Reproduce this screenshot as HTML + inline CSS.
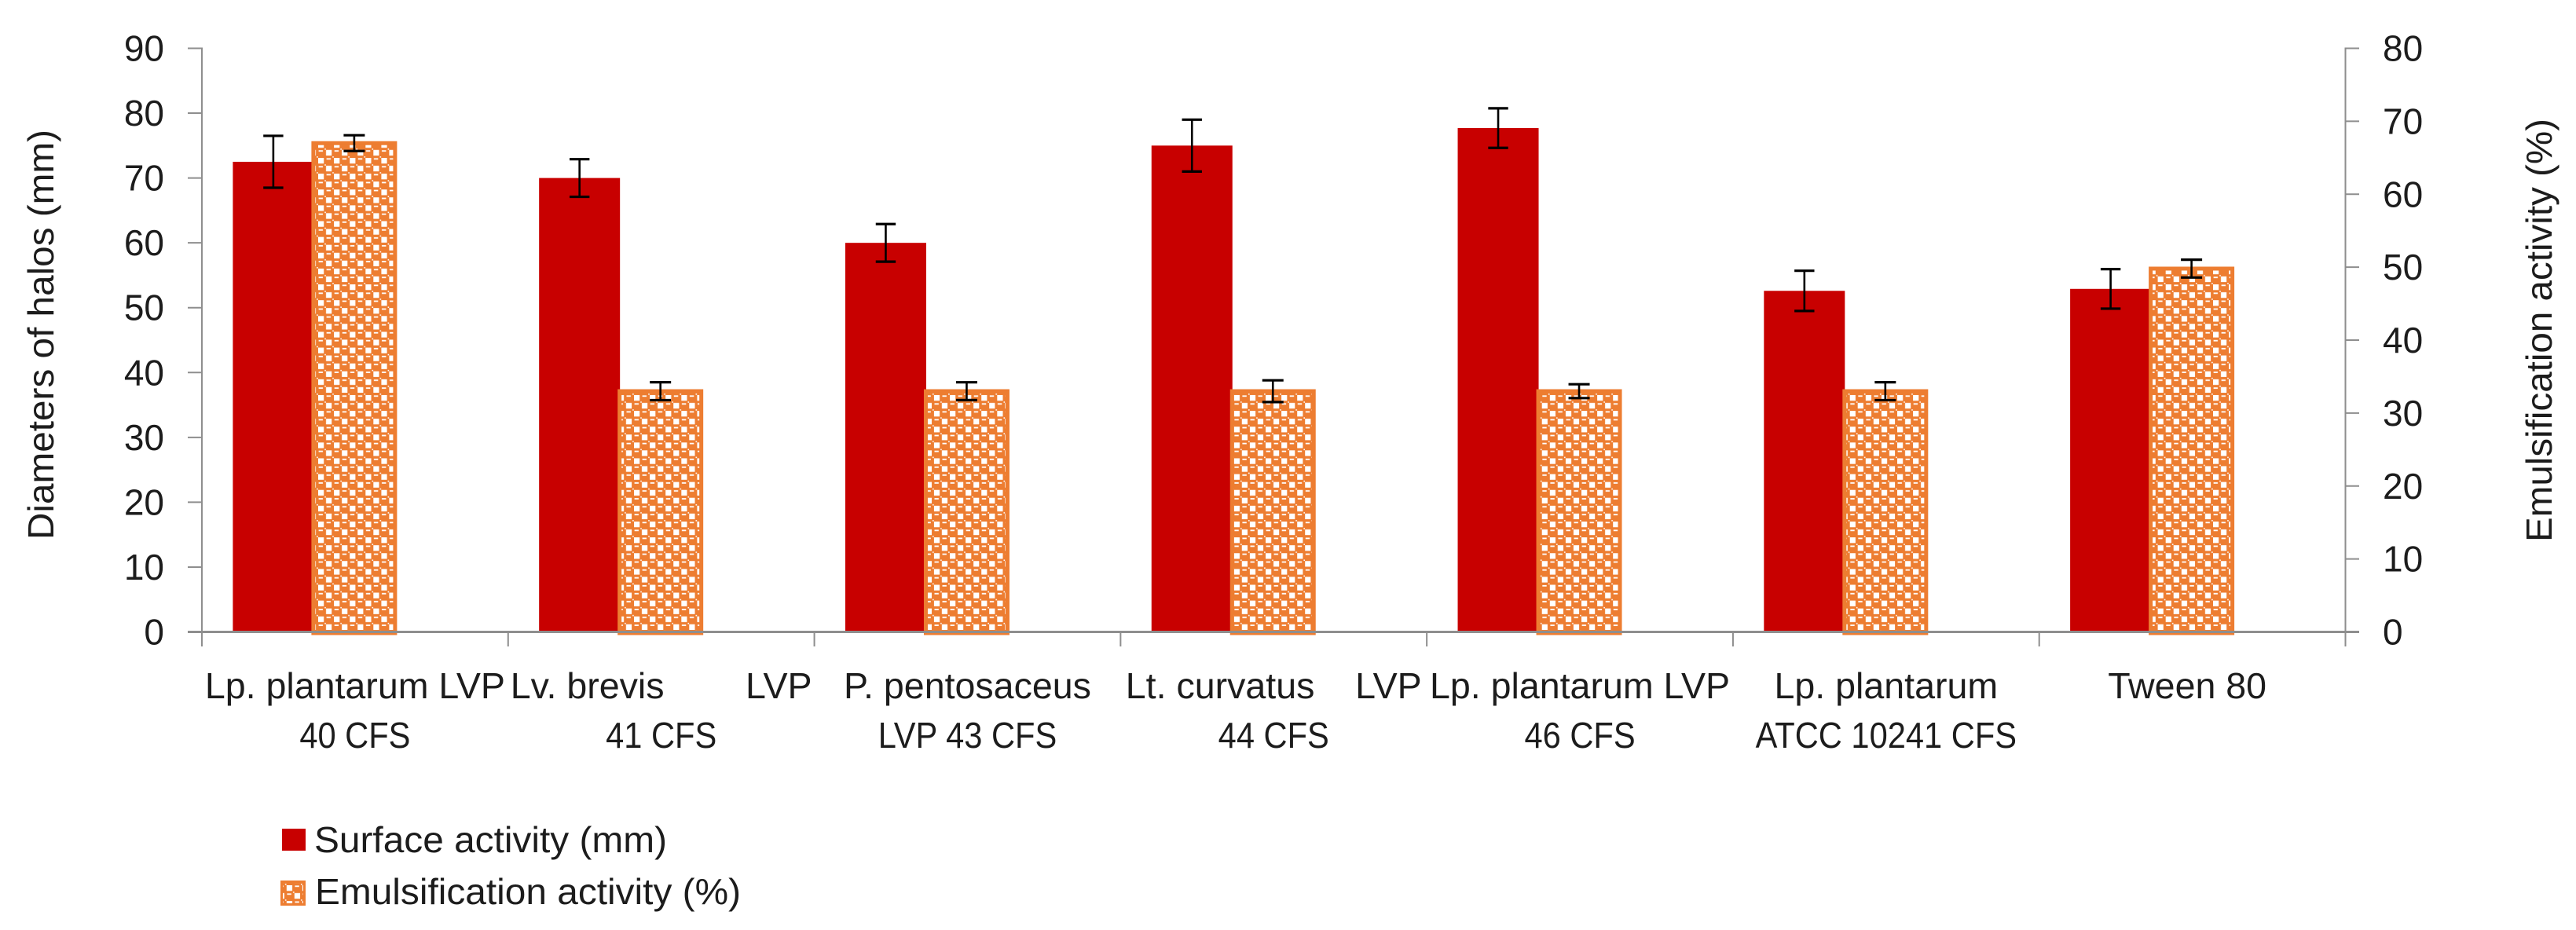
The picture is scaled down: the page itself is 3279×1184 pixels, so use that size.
<!DOCTYPE html>
<html lang="en">
<head>
<meta charset="utf-8">
<title>Surface and emulsification activity</title>
<style>
  html, body { margin: 0; padding: 0; background: #ffffff; }
  #chart { display: block; width: 3279px; height: 1184px; }
  text { font-family: "Liberation Sans", sans-serif; font-size: 46px; fill: #1c1c1c; white-space: pre; }
</style>
</head>
<body>
<svg id="chart" xmlns="http://www.w3.org/2000/svg" width="3279" height="1184" viewBox="0 0 3279 1184">
  <defs>
    <pattern id="dots" patternUnits="userSpaceOnUse" x="405" y="201" width="20.1" height="20.13">
      <rect x="0" y="0" width="20.1" height="20.13" fill="#ED7D31"/>
      <rect x="0" y="0" width="7.2" height="7.2" fill="#ffffff"/>
      <rect x="10" y="10" width="7.2" height="7.2" fill="#ffffff"/>
      <rect x="10.6" y="0.4" width="5.4" height="1.8" fill="#ffffff"/>
      <rect x="0.6" y="10.4" width="5.4" height="1.8" fill="#ffffff"/>
      <rect x="8.2" y="8.2" width="1.6" height="1.6" fill="#ffffff"/>
      <rect x="18.2" y="18.2" width="1.6" height="1.6" fill="#ffffff"/>
    </pattern>
  </defs>
  <g id="bars"></g>
  <g id="axes"></g>
  <g id="errors"></g>
  <g id="labels"></g>
  <g id="legend">
    <rect x="359" y="1055" width="30" height="28" fill="#C80000"/>
    <text x="400" y="1085" textLength="449" lengthAdjust="spacingAndGlyphs">Surface activity (mm)</text>
    <rect x="358.5" y="1122.5" width="29" height="29" fill="url(#dots)" stroke="#ED7D31" stroke-width="3"/>
    <text x="401" y="1151" textLength="542" lengthAdjust="spacingAndGlyphs">Emulsification activity (%)</text>
  </g>
  <text transform="translate(68 687) rotate(-90)" textLength="522" lengthAdjust="spacingAndGlyphs">Diameters of halos (mm)</text>
  <text transform="translate(3248 690) rotate(-90)" textLength="539" lengthAdjust="spacingAndGlyphs">Emulsification activity (%)</text>
</svg>
<script>
const categoryLine1 = ["Lp. plantarum LVP", "Lv. brevis        LVP", "P. pentosaceus", "Lt. curvatus    LVP", "Lp. plantarum LVP", "Lp. plantarum", "Tween 80 "];
const categoryLine2 = ["40 CFS", "41 CFS", "LVP 43 CFS", "44 CFS", "46 CFS", "ATCC 10241 CFS", ""];
const surfaceValues = [72.5, 70, 60, 75, 77.7, 52.6, 52.9];
const surfaceErrors = [4, 2.9, 2.9, 4, 3.05, 3.1, 3.05];
const emulsificationValues = [67, 33, 33, 33, 33, 33, 49.8];
const emulsificationErrors = [1.08, 1.23, 1.22, 1.49, 0.95, 1.23, 1.22];
const leftTicks = [0, 10, 20, 30, 40, 50, 60, 70, 80, 90];
const rightTicks = [0, 10, 20, 30, 40, 50, 60, 70, 80];

const NS = "http://www.w3.org/2000/svg";
const plotLeft = 257, plotRight = 2985.5, plotTop = 61.5, plotBottom = 804.5;
const leftMax = 90, rightMax = 80;
const band = (plotRight - plotLeft) / categoryLine1.length;
const yLeft = v => plotBottom - (v / leftMax) * (plotBottom - plotTop);
const yRight = v => plotBottom - (v / rightMax) * (plotBottom - plotTop);
const xCenter = i => plotLeft + band * (i + 0.5);
const surfaceOffset = -104, barWidth = 103, orangeWidth = 104;
const axisColor = "#8E8E8E";
const line2Squeeze = 0.905;
const line1Stretch = 1.012;

function make(tag, parent, attrs) {
  const el = document.createElementNS(NS, tag);
  for (const k in attrs) el.setAttribute(k, attrs[k]);
  parent.appendChild(el);
  return el;
}
function fitWidth(el, factor) {
  el.setAttribute("textLength", el.getComputedTextLength() * factor);
  el.setAttribute("lengthAdjust", "spacingAndGlyphs");
}
const barsG = document.getElementById("bars");
const axesG = document.getElementById("axes");
const errG = document.getElementById("errors");
const labelsG = document.getElementById("labels");

function errorBar(parent, cx, yHigh, yLow, half, name) {
  const g = make("g", parent, { stroke: "#000000" });
  
  
  make("line", g, { x1: cx, x2: cx, y1: yHigh, y2: yLow, "stroke-width": 2.6 });
  make("line", g, { x1: cx - half, x2: cx + half, y1: yHigh, y2: yHigh, "stroke-width": 3.2 });
  make("line", g, { x1: cx - half, x2: cx + half, y1: yLow, y2: yLow, "stroke-width": 3.2 });
}

surfaceValues.forEach((v, i) => {
  const cx = xCenter(i) + surfaceOffset;
  const y = yLeft(v);
  const bar = make("rect", barsG, { x: cx - barWidth / 2, y: y, width: barWidth, height: plotBottom - y, fill: "#C80000" });
  
  
  const e = surfaceErrors[i];
  errorBar(errG, cx, yLeft(v + e), yLeft(v - e), 12.7, 'error-bar-surface-' + (i + 1));
});

emulsificationValues.forEach((v, i) => {
  const cx = xCenter(i) - 1;
  const y = yRight(v);
  const bar = make("rect", barsG, { x: cx - orangeWidth / 2, y: y, width: orangeWidth, height: plotBottom + 1.5 - y, fill: "url(#dots)", stroke: "#ED7D31", "stroke-width": 5 });
  
  
  const e = emulsificationErrors[i];
  errorBar(errG, cx, yRight(v + e), yRight(v - e), 13.5, 'error-bar-emulsification-' + (i + 1));
});

const xAxis = make("line", axesG, { x1: 239, x2: 3003, y1: plotBottom, y2: plotBottom, stroke: axisColor, "stroke-width": 3 });


const leftAxis = make("line", axesG, { x1: plotLeft, x2: plotLeft, y1: plotTop - 1, y2: 823, stroke: axisColor, "stroke-width": 2 });


const rightAxis = make("line", axesG, { x1: plotRight, x2: plotRight, y1: plotTop - 1, y2: 823, stroke: axisColor, "stroke-width": 2 });



categoryLine1.forEach((c, i) => {
  if (i > 0) {
    const tick = make("line", axesG, { x1: plotLeft + band * i, x2: plotLeft + band * i, y1: plotBottom, y2: 823, stroke: axisColor, "stroke-width": 2 });
    
    
  }
  const line1 = make("text", labelsG, { x: xCenter(i), y: 889, "text-anchor": "middle" });
  line1.textContent = c;
  
  
  fitWidth(line1, line1Stretch);
  if (categoryLine2[i]) {
    const line2 = make("text", labelsG, { x: xCenter(i), y: 952, "text-anchor": "middle" });
    line2.textContent = categoryLine2[i];
    
    
    fitWidth(line2, line2Squeeze);
  }
});

leftTicks.forEach(t => {
  const y = yLeft(t);
  const tick = make("line", axesG, { x1: 239, x2: plotLeft, y1: y, y2: y, stroke: axisColor, "stroke-width": 2 });
  
  
  const label = make("text", labelsG, { x: 209, y: y + 16, "text-anchor": "end" });
  label.textContent = t;
  
  
});

rightTicks.forEach(t => {
  const y = yRight(t);
  const tick = make("line", axesG, { x1: plotRight, x2: 3003, y1: y, y2: y, stroke: axisColor, "stroke-width": 2 });
  
  
  const label = make("text", labelsG, { x: 3033, y: y + 16, "text-anchor": "start" });
  label.textContent = t;
  
  
});
</script>
</body>
</html>
